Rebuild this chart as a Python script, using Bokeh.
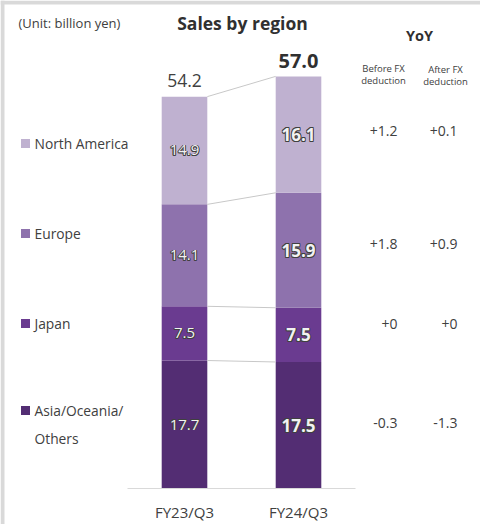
import numpy as np
from bokeh.plotting import figure
from bokeh.models import Range1d
from bokeh.core.properties import value
from bokeh.embed import file_html
from bokeh.resources import INLINE

# ---------------- data ----------------
periods = ["FY23/Q3", "FY24/Q3"]
regions = ["Asia/Oceania/\nOthers", "Japan", "Europe", "North America"]  # bottom -> top
sales_fy23 = [17.7, 7.5, 14.1, 14.9]
sales_fy24 = [17.5, 7.5, 15.9, 16.1]
totals = [54.2, 57.0]
yoy_before_fx = ["-0.3", "+0", "+1.8", "+1.2"]
yoy_after_fx = ["-1.3", "+0", "+0.9", "+0.1"]
colors = ["#532d73", "#6a3b90", "#8e72ad", "#bfb1d0"]

# ---------------- layout ----------------
W, H = 480, 524
PX_PER_UNIT = 7.23
BASE_PX = 488
PX_PER_CAT = 114.0
FIRST_CAT_PX = 184
BAR_W = 0.4
FONT = value("Open Sans")
TXT = "#404040"

y_start = -(H - BASE_PX) / PX_PER_UNIT
y_end = BASE_PX / PX_PER_UNIT
x_start = -FIRST_CAT_PX / PX_PER_CAT
x_end = (W - FIRST_CAT_PX) / PX_PER_CAT

p = figure(width=W, height=H, output_backend="svg", toolbar_location=None,
           x_range=Range1d(x_start, x_end), y_range=Range1d(y_start, y_end),
           x_axis_location=None, y_axis_location=None, min_border=0)
p.outline_line_color = None
p.xgrid.visible = False
p.ygrid.visible = False
p.background_fill_color = "white"
p.border_fill_color = "white"
p.extra_x_ranges = {"px": Range1d(0, W)}
p.extra_y_ranges = {"px": Range1d(H, 0)}
PX = dict(x_range_name="px", y_range_name="px")

# gray border strips on left/top
p.quad(left=[0, 0], right=[4, W], bottom=[H, 4], top=[0, 0], color="#d9d9d9", line_color=None, **PX)

xs = np.arange(len(periods))
series = [sales_fy23, sales_fy24]
cums = [np.cumsum(s) for s in series]

# bars
for xi, vals, cum in zip(xs, series, cums):
    vals = np.array(vals)
    p.vbar(x=[xi] * len(vals), bottom=cum - vals, top=cum, width=BAR_W,
           fill_color=colors, line_color=None)

# connectors between bar segments
p.segment(x0=[xs[0] + BAR_W / 2] * len(regions), y0=cums[0],
          x1=[xs[1] - BAR_W / 2] * len(regions), y1=cums[1],
          line_color="#c8c8c8", line_width=1)

# baseline
p.segment(x0=[xs[0] - 0.5], y0=[0], x1=[xs[-1] + 0.5], y1=[0],
          line_color="#d9d9d9", line_width=1)

# segment labels with outline
d = 0.8
offs = [(-d, -d), (-d, 0), (-d, d), (0, -d), (0, d), (d, -d), (d, 0), (d, d)]
for i, (xi, vals, cum) in enumerate(zip(xs, series, cums)):
    vals = np.array(vals)
    mids = cum - vals / 2
    labels = [f"{v:.1f}" for v in vals]
    size = "15px" if i == 0 else "17px"
    style = "normal" if i == 0 else "bold"
    for dx, dy in offs:
        p.text(x=[xi] * len(vals), y=mids, text=labels, x_offset=dx, y_offset=dy,
               text_align="center", text_baseline="middle", text_font=FONT,
               text_font_size=size, text_font_style=style, text_color="#404040")
    p.text(x=[xi] * len(vals), y=mids, text=labels,
           text_align="center", text_baseline="middle", text_font=FONT,
           text_font_size=size, text_font_style=style, text_color="#f2f2f2")

# totals
p.text(x=[xs[0]], y=[totals[0]], text=[f"{totals[0]:.1f}"], y_offset=-10,
       text_align="center", text_baseline="bottom", text_font=FONT,
       text_font_size="17.5px", text_color=TXT)
p.text(x=[xs[1]], y=[totals[1]], text=[f"{totals[1]:.1f}"], y_offset=-8,
       text_align="center", text_baseline="bottom", text_font=FONT,
       text_font_size="20px", text_font_style="bold", text_color="#303030")

# category labels
p.text(x=xs, y=[0] * len(xs), text=periods, y_offset=23,
       text_align="center", text_baseline="middle", text_font=FONT,
       text_font_size="15px", text_color=TXT)

# titles
p.text(x=[18], y=[22], text=["(Unit: billion yen)"], text_align="left", text_baseline="middle",
       text_font=FONT, text_font_size="13px", text_color=TXT, **PX)
p.text(x=[242], y=[22], text=["Sales by region"], text_align="center", text_baseline="middle",
       text_font=FONT, text_font_size="17.5px", text_font_style="bold", text_color="#303030", **PX)
p.text(x=[419], y=[35], text=["YoY"], text_align="center", text_baseline="middle",
       text_font=FONT, text_font_size="14.5px", text_font_style="bold", text_color="#303030", **PX)
p.text(x=[383, 383, 445, 445], y=[68, 80, 69, 81],
       text=["Before FX", "deduction", "After FX", "deduction"],
       text_align="center", text_baseline="middle", text_font=FONT,
       text_font_size="9.5px", text_color=TXT, **PX)

# legend
legend_y = [410, 323, 233, 143]
p.scatter(x=[25] * len(regions), y=legend_y, marker="square", size=9,
          fill_color=colors, line_color=None, **PX)
lx, ly, lt = [], [], []
for name, yy in zip(regions, legend_y):
    for k, line in enumerate(name.split("\n")):
        lx.append(34)
        ly.append(yy + 28 * k)
        lt.append(line)
p.text(x=lx, y=ly, text=lt, text_align="left", text_baseline="middle",
       text_font=FONT, text_font_size="13.8px", text_color=TXT, **PX)

# YoY values
yoy_y = [422, 323, 243, 130]
p.text(x=[397] * len(yoy_y), y=yoy_y, text=yoy_before_fx, text_align="right", text_baseline="middle",
       text_font=FONT, text_font_size="14px", text_color=TXT, **PX)
p.text(x=[457] * len(yoy_y), y=yoy_y, text=yoy_after_fx, text_align="right", text_baseline="middle",
       text_font=FONT, text_font_size="14px", text_color=TXT, **PX)

open("out.html", "w").write(file_html(p, INLINE))
